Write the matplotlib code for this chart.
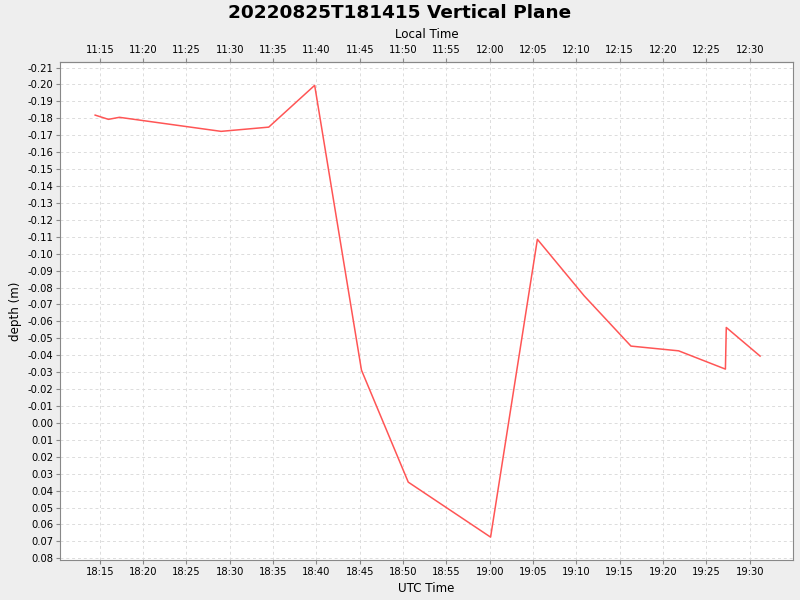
import numpy as np
import pandas as pd
import matplotlib
matplotlib.use("Agg")
from matplotlib import pyplot as plt
import matplotlib.dates as mdates
from matplotlib.ticker import FuncFormatter, MultipleLocator

# UTC sample times and depth (m)
utc_times = ["18:14:28", "18:16:00", "18:17:16", "18:29:00", "18:34:30", "18:39:48",
             "18:45:12", "18:50:36", "19:00:06", "19:05:30", "19:10:54", "19:16:18",
             "19:21:48", "19:27:12", "19:27:18", "19:31:12"]
depth = [-0.1819, -0.1794, -0.1806, -0.1723, -0.1748, -0.1995,
         -0.0312, 0.0350, 0.0675, -0.1085, -0.0751, -0.0454,
         -0.0426, -0.0318, -0.0564, -0.0395]
local_offset_h = -7

t = pd.to_datetime(["2022-08-25 " + s for s in utc_times])

fig = plt.figure(figsize=(8, 6), dpi=100)
fig.patch.set_facecolor("#EEEEEE")
ax = fig.add_axes([0.0756, 0.0667, 0.9153, 0.83])
ax.set_facecolor("white")

ax.plot(t, depth, color="#FF5555", linewidth=1.1)

ax.set_xlim(pd.Timestamp("2022-08-25 18:10:28"), pd.Timestamp("2022-08-25 19:34:58"))
ax.set_ylim(0.081, -0.2133)
ax.yaxis.set_major_locator(MultipleLocator(0.01))
ax.yaxis.set_major_formatter(FuncFormatter(lambda v, p: "%.2f" % (0.0 if abs(v) < 1e-9 else v)))
ax.xaxis.set_major_locator(mdates.MinuteLocator(byminute=range(0, 60, 5)))
ax.xaxis.set_major_formatter(mdates.DateFormatter("%H:%M"))

ax.grid(True, color="#DCDCDC", linestyle=(0, (3, 3)), linewidth=0.7)
for s in ax.spines.values():
    s.set_color("#888888")
ax.tick_params(axis="both", direction="out", length=3, width=0.8, color="#888888",
               labelsize=7.2, pad=2)

def to_local(v, p):
    d = mdates.num2date(v) + pd.Timedelta(hours=local_offset_h)
    return d.strftime("%H:%M")

top = ax.secondary_xaxis("top")
top.xaxis.set_major_locator(mdates.MinuteLocator(byminute=range(0, 60, 5)))
top.xaxis.set_major_formatter(FuncFormatter(to_local))
top.tick_params(direction="out", length=3, width=0.8, color="#888888", labelsize=7.2, pad=2)
top.spines["top"].set_color("#888888")
top.set_xlabel("Local Time", fontsize=8.6, labelpad=5)

ax.set_xlabel("UTC Time", fontsize=8.6, labelpad=4)
ax.set_ylabel("depth (m)", fontsize=8.6, labelpad=4)
fig.suptitle("20220825T181415 Vertical Plane", fontsize=13.3, fontweight="bold", y=0.993)

plt.savefig("out.png", dpi=100, facecolor=fig.get_facecolor())
